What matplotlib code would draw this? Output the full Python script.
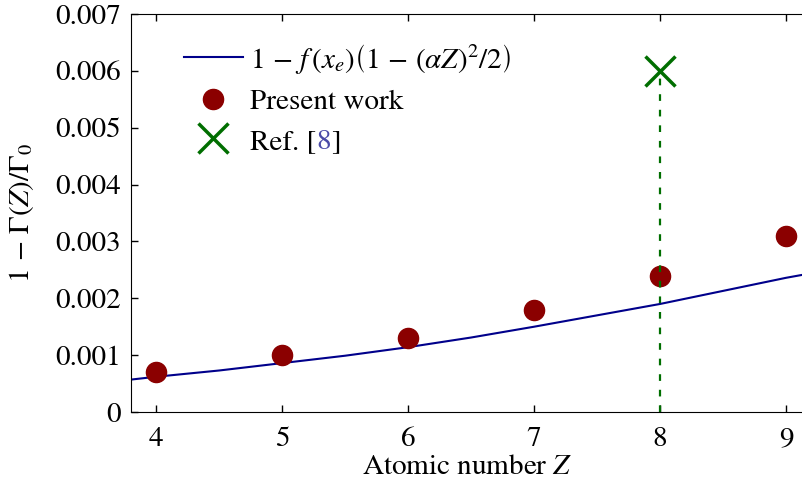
import matplotlib
matplotlib.use('Agg')
import matplotlib.pyplot as plt

# Values
z_points = [4, 5, 6, 7, 8, 9]
present_work = [0.0007, 0.0010, 0.0013, 0.0018, 0.0024, 0.0031]

ref_z = [8]
ref_value = [0.0060]

# theory curve
curve_z = [3.8, 4.0, 4.5, 5.0, 5.5, 6.0, 6.5, 7.0, 7.5, 8.0, 8.5, 9.0, 9.15]
curve_val = [0.00057, 0.00062, 0.00073, 0.00086, 0.00099, 0.00114, 0.00131,
             0.00150, 0.00170, 0.00190, 0.00213, 0.00236, 0.00242]

yticks = [0, 0.001, 0.002, 0.003, 0.004, 0.005, 0.006, 0.007]
ytick_labels = ['0', '0.001', '0.002', '0.003', '0.004', '0.005', '0.006', '0.007']

plt.rcParams['font.family'] = 'STIXGeneral'
plt.rcParams['mathtext.fontset'] = 'stix'
plt.rcParams['font.size'] = 21


def main():
    fig = plt.figure(figsize=(8.03, 4.84), dpi=100)
    ax = fig.add_axes([131 / 803, 1 - 412 / 484, 1 - 131 / 803, (412 - 14) / 484])

    ax.plot(curve_z, curve_val, color='#00008b', lw=1.5,
            label=r'$1\,-\,f\,(x_e)\left(1\,-\,(\alpha Z)^2/2\right)$')
    ax.plot(z_points, present_work, 'o', color='#8b0000', ms=14.5,
            label='Present work')
    ax.vlines(ref_z, 0, ref_value, colors='#006e00', linestyles=(0, (3, 4)), lw=1.6)
    ax.plot(ref_z, ref_value, 'x', color='#006e00', ms=21, mew=2.5,
            label='Ref. [8]')

    ax.set_xlim(3.8, 9.135)
    ax.set_ylim(0, 0.007)
    ax.set_xticks(z_points)
    ax.set_yticks(yticks)
    ax.set_yticklabels(ytick_labels)
    ax.tick_params(direction='in', top=True, right=False, length=5, width=1)
    ax.tick_params(axis='x', pad=11)
    ax.tick_params(axis='y', pad=7)
    ax.spines['right'].set_visible(False)

    ax.set_xlabel('Atomic number $Z$', labelpad=2)
    ax.set_ylabel(r'$1\,-\,\Gamma(Z)/\Gamma_0$', labelpad=14)

    leg = ax.legend(loc='upper left', bbox_to_anchor=(0.062, 0.96), frameon=False,
                    handlelength=2.0, handletextpad=0.25, labelspacing=0.45,
                    borderaxespad=0)

    # blue citation number inside the legend text
    t = leg.get_texts()[2]
    t.set_text('Ref. [')
    num = ax.annotate('8', xy=(1, 0), xycoords=t, ha='left', va='bottom',
                      color='#4b4ba8', fontsize=21, zorder=6)
    ax.annotate(']', xy=(1, 0), xycoords=num, ha='left', va='bottom',
                fontsize=21, zorder=7)

    plt.savefig('out.png', dpi=100)


if __name__ == '__main__':
    main()
